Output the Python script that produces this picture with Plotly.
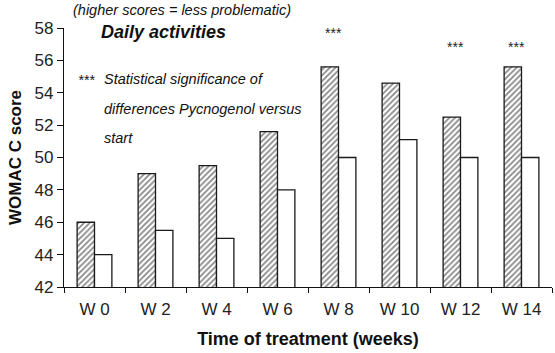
import plotly.graph_objects as go

weeks = ["W 0", "W 2", "W 4", "W 6", "W 8", "W 10", "W 12", "W 14"]
pycnogenol = [46.0, 49.0, 49.5, 51.6, 55.6, 54.6, 52.5, 55.6]
control = [44.0, 45.5, 45.0, 48.0, 50.0, 51.1, 50.0, 50.0]
significant = [False, False, False, False, True, False, True, True]
star_y = [None, None, None, None, 57.7, None, 56.85, 56.85]

hand = "Liberation Sans"

fig = go.Figure()
fig.add_trace(go.Bar(
    x=weeks, y=pycnogenol, name="Pycnogenol",
    marker=dict(color="white", line=dict(color="#1a1a1a", width=1.3),
                pattern=dict(shape="/", fgcolor="#111", bgcolor="white", size=4, solidity=0.45)),
))
fig.add_trace(go.Bar(
    x=weeks, y=control, name="Control",
    marker=dict(color="white", line=dict(color="#1a1a1a", width=1.3)),
))

annotations = []
for w, s, yy in zip(weeks, significant, star_y):
    if s:
        annotations.append(dict(x=w, y=yy, xref="x", yref="y", text="***", showarrow=False,
                                xshift=-5, font=dict(family=hand, size=14, color="#222")))

def ptext(text, px, py, size, bold=False, italic=True):
    t = f"<b>{text}</b>" if bold else text
    if italic:
        t = f"<i>{t}</i>"
    return dict(x=(px - 64) / 488, y=(287 - py) / 259, xref="paper", yref="paper",
                text=t, showarrow=False, xanchor="left", yanchor="middle",
                font=dict(family=hand, size=size, color="#111"))

annotations += [
    ptext("(higher scores = less problematic)", 71, 10, 14.5),
    ptext("Daily activities", 99, 32, 18, bold=True),
    ptext("***", 76, 80, 14),
    ptext("Statistical significance of", 102, 79, 14.5),
    ptext("differences Pycnogenol versus", 102, 109, 14.5),
    ptext("start", 102, 138, 14.5),
]

fig.update_layout(
    width=555, height=353,
    margin=dict(l=64, r=3, t=28, b=66),
    plot_bgcolor="white", paper_bgcolor="white",
    barmode="group", bargap=0.43, bargroupgap=0,
    showlegend=False,
    annotations=annotations,
    font=dict(family="Liberation Sans", color="#222"),
)
fig.update_xaxes(
    type="category", showline=True, linecolor="#111", linewidth=1.2,
    ticks="outside", tickson="boundaries", ticklen=5, tickcolor="#111",
    tickfont=dict(size=17, color="#222"), showgrid=False, ticklabelstandoff=6,
    title=dict(text="<b>Time of treatment (weeks)</b>", font=dict(size=18, color="#111"), standoff=14),
)
fig.update_yaxes(
    range=[42, 58], dtick=2, showline=True, linecolor="#111", linewidth=1.2,
    ticks="outside", ticklen=6, tickcolor="#111", showgrid=False, zeroline=False,
    tickfont=dict(size=17, color="#222"),
    title=dict(text="<b>WOMAC C score</b>", font=dict(size=17, color="#111"), standoff=8),
)
fig.write_html("out.html")
